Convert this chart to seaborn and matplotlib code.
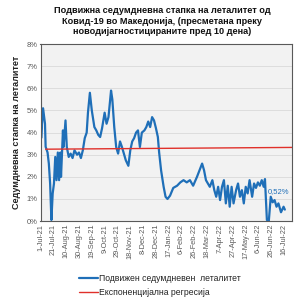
import matplotlib
matplotlib.use("Agg")
import matplotlib.pyplot as plt
import seaborn as sns
import pandas as pd
import numpy as np

title = "Подвижна седумдневна стапка на леталитет од\nКовид-19 во Македонија, (пресметана преку\nноводијагностицираните пред 10 дена)"
ylabel = "Седумдневна стапка на леталитет"
series_names = ["Подвижен седумдневен  леталитет", "Експоненцијална регресија"]

start_date = "2021-07-01"
# day offsets from start_date and rolling 7-day fatality rate (%)
day_offsets = [0, 1, 2, 4, 7, 8, 11, 13, 15, 17, 19, 21, 23, 25, 27, 29, 31, 32, 35, 36, 39, 41,
               44, 47, 50, 53, 57, 60, 63, 66, 69, 72, 74, 77, 80, 84, 87, 90, 93, 96, 100, 103,
               106, 110, 112, 115, 118, 121, 124, 127, 130, 133, 137, 140, 143, 146, 149, 152,
               155, 158, 162, 165, 168, 171, 174, 177, 180, 183, 185, 188, 192, 195, 198, 202,
               207, 213, 218, 223, 228, 233, 238, 244, 248, 252, 255, 258, 261, 264, 268, 271,
               274, 277, 280, 283, 286, 289, 292, 295, 298, 301, 305, 308, 311, 314, 317, 320,
               323, 326, 330, 333, 336, 339, 342, 345, 348, 350, 353, 356, 359, 362, 365, 368,
               371, 375, 379, 381]
rate = [8.0, 3.75, 4.27, 5.1, 4.4, 3.36, 3.1, 2.6, 1.7, 0.05, 1.25, 1.7, 2.9, 1.85, 3.1, 1.85,
        3.1, 2.0, 4.1, 3.35, 4.55, 3.35, 2.9, 3.05, 2.85, 3.2, 3.0, 3.1, 2.85, 3.2, 3.75, 4.0,
        4.9, 5.8, 5.0, 4.25, 4.1, 3.9, 3.8, 4.2, 4.9, 4.4, 4.7, 5.9, 5.5, 4.25, 3.35, 3.05,
        3.6, 3.35, 3.05, 2.75, 2.5, 3.2, 3.6, 3.75, 4.0, 4.1, 3.35, 4.0, 4.1, 4.25, 4.5, 4.25,
        4.7, 4.55, 4.2, 3.8, 3.1, 2.3, 1.55, 1.1, 1.0, 1.15, 1.5, 1.6, 1.75, 1.85, 1.75, 1.85,
        1.6, 2.0, 2.3, 2.6, 2.3, 1.85, 1.7, 1.55, 1.85, 1.4, 1.1, 1.55, 0.95, 1.55, 1.85, 0.8,
        1.6, 0.65, 1.55, 0.8, 1.4, 1.7, 1.1, 1.4, 0.8, 1.55, 1.25, 1.85, 1.1, 1.7, 1.5, 1.75,
        1.6, 1.85, 1.55, 1.9, 0.05, 0.0, 1.1, 0.85, 0.95, 0.65, 0.8, 0.4, 0.65, 0.52]

# exponential regression endpoints (day offset, value %)
reg_days = [8, 392]
reg_values = [3.25, 3.33]

y_ticks = [0, 1, 2, 3, 4, 5, 6, 7, 8]

sns.set_theme(style="white")
plt.rcParams['font.family'] = ['Liberation Sans', 'DejaVu Sans']

base = pd.Timestamp(start_date)
df = pd.DataFrame({"date": base + pd.to_timedelta(day_offsets, unit="D"), "rate": rate})

reg_d = np.arange(reg_days[0], reg_days[1] + 1)
k = np.log(reg_values[1] / reg_values[0]) / (reg_days[1] - reg_days[0])
reg_df = pd.DataFrame({"date": base + pd.to_timedelta(reg_d, unit="D"),
                       "rate": reg_values[0] * np.exp(k * (reg_d - reg_days[0]))})

fig = plt.figure(figsize=(3, 3), dpi=100)
ax = fig.add_axes([0.135, 0.263, 0.838, 0.59])
ax.set_facecolor("#f2f2f2")

blue = "#1f6fb8"
red = "#e0302a"
sns.lineplot(data=df, x="date", y="rate", ax=ax, color=blue, lw=1.6, label=series_names[0])
sns.lineplot(data=reg_df, x="date", y="rate", ax=ax, color=red, lw=1.0, label=series_names[1])

ax.set_ylim(0, 8)
ax.set_xlim(base, base + pd.Timedelta(days=392))
ax.set_yticks(y_ticks)
ax.set_yticklabels([f"{t}%" for t in y_ticks], fontsize=5.5, color="#595959")
ax.yaxis.grid(True, color="#d9d9d9", lw=0.6)
ax.set_axisbelow(True)

xt = [base + pd.Timedelta(days=20 * i) for i in range(20)]
ax.set_xticks(xt)
ax.set_xticklabels([f"{d.day}-{d.strftime('%b-%y')}" for d in xt], rotation=90,
                   fontsize=5.3, color="#595959")
ax.tick_params(axis="both", length=0, pad=2)
for s in ax.spines.values():
    s.set_color("#595959")
    s.set_linewidth(0.8)

ax.set_xlabel("")
ax.set_ylabel(ylabel, fontsize=6.5, fontweight="bold", color="#222222", labelpad=4)
fig.text(0.54, 0.98, title, ha="center", va="top", fontsize=6.6, fontweight="bold",
         color="#111111", linespacing=1.25)

last_date = df["date"].iloc[-1]
last_val = df["rate"].iloc[-1]
ax.annotate(f"{last_val:.2f}%".replace(".", ","), (last_date, last_val),
            xytext=(-12.5, 13), textcoords="offset points", ha="left", va="center",
            fontsize=5.5, color=blue)

leg = ax.legend(loc="upper center", bbox_to_anchor=(0.475, -0.255), ncol=1, frameon=False,
                fontsize=6.2, handlelength=2.2, handletextpad=0.2, labelspacing=0.6)
for t in leg.get_texts():
    t.set_color("#222222")

fig.savefig("out.png", dpi=100, facecolor="white")
